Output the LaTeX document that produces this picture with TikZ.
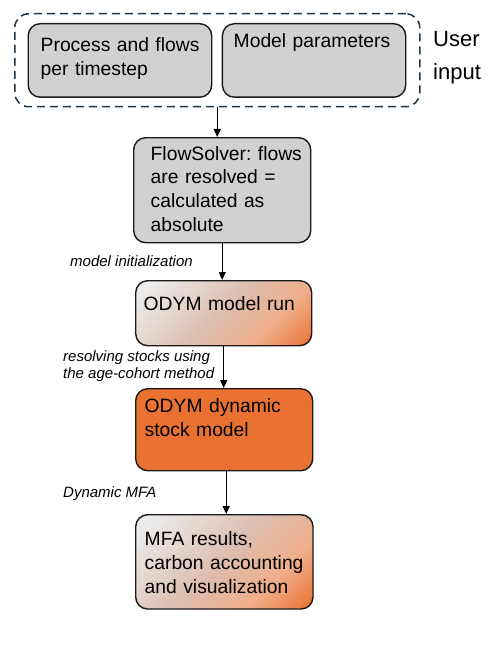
\documentclass[tikz,border=0pt]{standalone}
\usepackage{fontspec}
\setmainfont{Liberation Sans}
\usetikzlibrary{arrows.meta}
\definecolor{boxgray}{HTML}{D1D1D1}
\definecolor{edgedark}{HTML}{1A1A1A}
\definecolor{dashteal}{HTML}{1B3547}
\definecolor{odymorange}{HTML}{E97132}
\definecolor{odympeach}{HTML}{F0AE8A}
\definecolor{odymmid}{HTML}{DDBCAC}
\definecolor{odymlight}{HTML}{EBEBEB}
\pgfdeclarehorizontalshading{odymfade}{100bp}{color(0bp)=(odymlight); color(20bp)=(odymlight); color(50bp)=(odymmid); color(68bp)=(odympeach); color(85bp)=(odymorange); color(100bp)=(odymorange)}
\frenchspacing
\begin{document}
\begin{tikzpicture}[x=1pt,y=-1pt]

    \tikzset{
      stepbox/.style={
        draw=edgedark,
        line width=1.4pt,
        rounded corners=12pt,
        anchor=north west,
        inner ysep=0pt,
        align=left,
        font=\fontsize{19.3}{23.8}\selectfont\frenchspacing,
      },
      graybox/.style={stepbox, fill=boxgray},
      fadebox/.style={stepbox, shading=odymfade, shading angle=-45},
      stepnote/.style={
        anchor=base west,
        inner sep=0pt,
        align=left,
        font=\fontsize{15}{16.3}\selectfont\itshape,
      },
      flow/.style={-{Triangle[length=8pt,width=7pt]}, line width=1.2pt, black},
    }
    \useasboundingbox (0,0) rectangle (500,650);
	\node[draw=dashteal, line width=1.5pt, dash pattern=on 8pt off 5pt, rounded corners=14pt, anchor=north west, minimum width=405pt, minimum height=93pt] (userbox) at (14,13) {};
	\node[graybox, minimum width=183.5pt, inner xsep=12.5pt, text width=158.5pt, text height=28pt, text depth=45.5pt] (proc) at (27.5,23) {\mbox{Process and flows}\\per timestep};
	\node[graybox, minimum width=183.3pt, inner xsep=11.3pt, text width=160.7pt, text height=23.7pt, text depth=49.8pt] (param) at (221.7,23) {Model parameters};
	\node[anchor=base west, inner sep=0pt, align=left, font=\fontsize{22}{33}\selectfont] (user) at (433,80) {User\\input};
	\node[graybox, minimum width=177pt, inner xsep=17pt, text width=143pt, text height=22.3pt, text depth=82.7pt] (solver) at (133,137) {\mbox{FlowSolver: flows}\\are resolved =\\calculated as\\absolute};
	\node[fadebox, minimum width=176pt, inner xsep=8pt, text width=160pt, text height=30pt, text depth=35pt] (run) at (135,280) {ODYM model run};
	\node[stepbox, fill=odymorange, minimum width=177pt, inner xsep=9pt, text width=159pt, text height=23.7pt, text depth=58.3pt] (dyn) at (135,388) {ODYM dynamic\\stock model};
	\node[fadebox, minimum width=177.3pt, inner xsep=9pt, text width=159.3pt, text height=31pt, text depth=63.3pt] (mfa) at (135,514) {MFA results,\\\mbox{carbon accounting}\\and visualization};
	\node[stepnote] (noteinit) at (70,266) {model initialization};
	\node[stepnote] (notecohort) at (63,378) {resolving stocks using\\the age-cohort method};
	\node[stepnote] (notemfa) at (63,497) {Dynamic MFA};
	\draw[flow] (userbox.south) -- (userbox.south |- solver.north);
	\draw[flow] (solver.south) -- (solver.south |- run.north);
	\draw[flow] (run.south) -- (run.south |- dyn.north);
	\draw[flow] ([xshift=2pt]dyn.south) -- ([xshift=2pt]dyn.south |- mfa.north);

\end{tikzpicture}
\end{document}
